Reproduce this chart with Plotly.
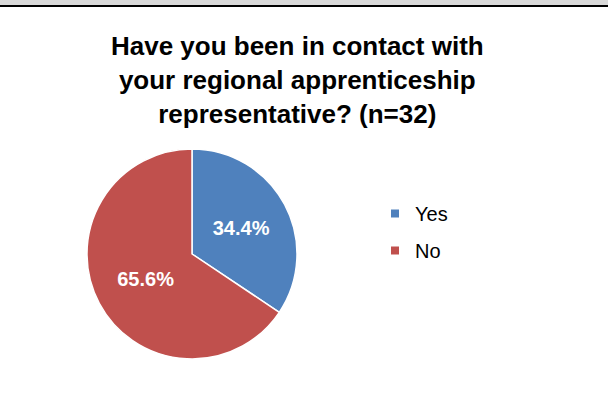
import plotly.graph_objects as go

# survey answers (n=32)
labels = ['Yes', 'No']
counts = [11, 21]
colors = ['#4F81BD', '#C0504D']
title_lines = ['Have you been in contact with',
               'your regional apprenticeship',
               'representative? (n=32)']

W, H = 608, 411

fig = go.Figure()

fig.add_trace(go.Pie(
    labels=labels, values=counts,
    sort=False, direction='clockwise', rotation=0,
    marker=dict(colors=colors, line=dict(color='white', width=1.5)),
    textinfo='percent', texttemplate='%{percent:.1%}',
    textposition='inside', insidetextorientation='horizontal',
    textfont=dict(family='Liberation Sans, Arial', size=20, color='white', weight='bold'),
    domain=dict(x=[87 / W, 297 / W], y=[1 - 359 / H, 1 - 149 / H]),
    showlegend=False, hoverinfo='label+percent',
))

# legend entries, one group each so the gap can be widened
for lab, col in zip(labels, colors):
    fig.add_trace(go.Scatter(
        x=[None], y=[None], mode='markers', name=lab, legendgroup=lab,
        marker=dict(symbol='square', size=8, color=col),
    ))

fig.update_layout(
    width=W, height=H,
    margin=dict(l=0, r=0, t=0, b=0),
    paper_bgcolor='white', plot_bgcolor='white',
    xaxis=dict(visible=False), yaxis=dict(visible=False),
    title=dict(
        text='<br>'.join(title_lines),
        x=0.489, xanchor='center', y=1 - 55 / H, yanchor='top',
        font=dict(family='Liberation Sans, Arial', size=26, color='black', weight='bold'),
    ),
    legend=dict(
        x=(395 - 20) / W, xanchor='left', y=1 - 194 / H, yanchor='top',
        font=dict(family='Liberation Sans, Arial', size=20, color='black'),
        tracegroupgap=8, bgcolor='rgba(0,0,0,0)',
    ),
    shapes=[
        dict(type='rect', xref='paper', yref='paper', x0=0, x1=1,
             y0=1 - 5 / H, y1=1, fillcolor='#d9d9d9', line=dict(width=0)),
        dict(type='line', xref='paper', yref='paper', x0=0, x1=1,
             y0=1 - 6 / H, y1=1 - 6 / H, line=dict(color='black', width=2)),
    ],
)

# drop the browser's default 8px body margin and any scrollbar
fig.write_html('out.html', config={'displayModeBar': False},
               post_script="document.body.style.margin='0';"
                           "document.body.style.overflow='hidden';")
